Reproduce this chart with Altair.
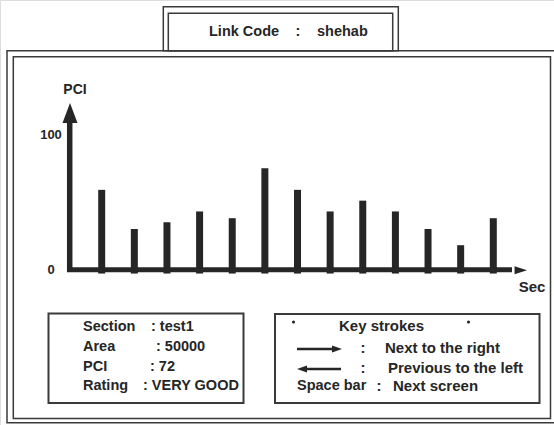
import altair as alt
import pandas as pd

# ---- data ----
sections = list(range(1, 14))
pci_values = [59, 30, 35, 43, 38, 75, 59, 43, 51, 43, 30, 18, 38]
y_ticks = [0, 100]
y_title = "PCI"
x_title = "Sec"
link_label = "Link Code"
link_code = "shehab"
info_labels = ["Section", "Area", "PCI", "Rating"]
info_values = [": test1", ":  50000", ": 72", ": VERY GOOD"]
key_title = "Key strokes"
key_right = "Next to the right"
key_left = "Previous to the left"
key_space = "Space bar"
key_space_action = "Next screen"

INK = "#262626"
LINE = "#3a3a3a"
FONT = "Liberation Sans"

one = pd.DataFrame({"k": [0]})

xs = alt.Scale(domain=[1, 13], range=[96.7, 498.3], zero=False, nice=False)
ys = alt.Scale(domain=[0, 100], range=[269.5, 134.5], zero=False, nice=False)


def box(x, x2, y, y2, sw=1.5):
    return alt.Chart(one).mark_rect(fill="white", fillOpacity=0, stroke=LINE, strokeWidth=sw).encode(
        x=alt.value(x), x2=alt.value(x2), y=alt.value(y), y2=alt.value(y2))


def rule(x, x2, y, y2, sw):
    return alt.Chart(one).mark_rule(strokeWidth=sw, color=INK, strokeCap="butt").encode(
        x=alt.value(x), x2=alt.value(x2), y=alt.value(y), y2=alt.value(y2))


def head(path, x, y, size):
    return alt.Chart(one).mark_point(shape=path, size=size, filled=True, color=INK, opacity=1, strokeWidth=0).encode(
        x=alt.value(x), y=alt.value(y))


def label(s, x, y, align="left", size=14, weight="bold"):
    return alt.Chart(pd.DataFrame({"t": [s]})).mark_text(
        align=align, baseline="middle", fontSize=size, fontWeight=weight, font=FONT, color=INK
    ).encode(x=alt.value(x), y=alt.value(y), text="t:N")


layers = []
# outer frame (double line)
layers.append(box(7, 557, 50.7, 422.8))
layers.append(box(13.3, 550.5, 56.7, 418.5))
# top link-code box (double line)
layers.append(box(163.3, 398.3, 6.7, 50.7))
layers.append(box(168.3, 392.7, 13.3, 50.7))
# info boxes
layers.append(box(48.5, 243.5, 313.5, 403, sw=2))
layers.append(box(275, 539.5, 314, 403, sw=2))

# bars
df = pd.DataFrame({"sec": sections, "pci": pci_values})
layers.append(alt.Chart(df).mark_bar(size=7, color=INK).encode(
    x=alt.X("sec:Q", scale=xs, axis=None),
    y=alt.Y("pci:Q", scale=ys, axis=None),
    y2=alt.datum(-3),
))

# axes with arrowheads
layers.append(rule(69.7, 69.7, 272, 118, 5.5))
layers.append(rule(67, 512, 269.8, 269.8, 5))
layers.append(head("M0,-1L0.75,1L-0.75,1Z", 70, 113, 400))
layers.append(head("M1,0L-1,-0.64L-1,0.64Z", 520.8, 270.3, 156))

# tick labels via y scale
layers.append(alt.Chart(pd.DataFrame({"tick": y_ticks})).mark_text(
    align="center", baseline="middle", fontSize=13, fontWeight="bold", font=FONT, color=INK
).encode(x=alt.value(51), y=alt.Y("tick:Q", scale=ys, axis=None), text="tick:Q"))

layers.append(label(y_title, 75, 90, align="center", size=14))
layers.append(label(x_title, 532, 287, align="center", size=15))

# top box text
layers.append(label(link_label, 209, 32, size=14.5))
layers.append(label(":", 298, 32, align="center", size=14.5))
layers.append(label(link_code, 317, 32, size=14.5))

# info box text
rows_y = [327, 347, 367, 386]
value_x = [151, 156, 150, 143]
for lab, val, yy, vx in zip(info_labels, info_values, rows_y, value_x):
    layers.append(label(lab, 83, yy, size=14.5))
    layers.append(label(val, vx, yy, size=14.5))

# key strokes box
KS = 15
layers.append(head("circle", 293.5, 322, 10))
layers.append(head("circle", 468.5, 322, 10))
layers.append(label(key_title, 381.5, 326, align="center", size=KS))
layers.append(rule(297, 334, 349, 349, 2.5))
layers.append(head("M1,0L-1,-0.7L-1,0.7Z", 337, 349, 100))
layers.append(label(":", 363, 348, align="center", size=KS))
layers.append(label(key_right, 385, 348, size=KS))
layers.append(rule(305, 341, 369, 369, 2.5))
layers.append(head("M-1,0L1,-0.7L1,0.7Z", 302, 369, 100))
layers.append(label(":", 363, 368, align="center", size=KS))
layers.append(label(key_left, 388, 368, size=KS))
layers.append(label(key_space, 297, 386, size=14.5))
layers.append(label(":", 379, 386, align="center", size=KS))
layers.append(label(key_space_action, 393, 386, size=KS))

chart = alt.layer(*layers).properties(
    width=554, height=425, padding=0, autosize="none"
).configure_view(stroke=None).configure(background="white")

chart.save("out.html", embed_options={"renderer": "svg", "actions": False})
